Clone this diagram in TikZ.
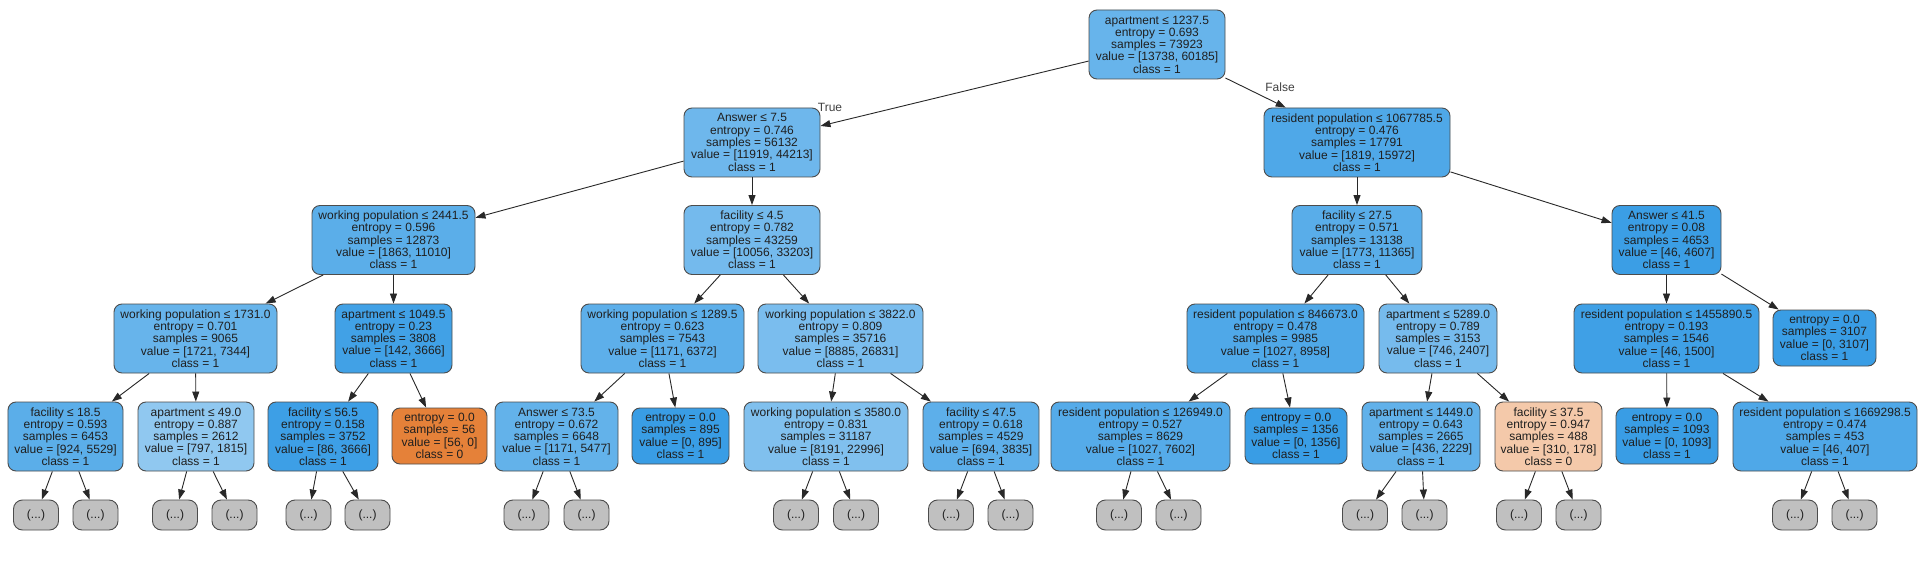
\documentclass[tikz,border=0pt]{standalone}
\usepackage{fontspec}
\setmainfont{Liberation Sans}
\usetikzlibrary{arrows.meta}
\definecolor{cb}{RGB}{57,157,229}
\definecolor{co}{RGB}{229,129,57}
\definecolor{cg}{RGB}{192,192,192}
\definecolor{edgec}{RGB}{40,40,40}
\tikzset{
  tn/.style={draw=black!70, line width=0.9bp, rounded corners=8bp, inner sep=0pt,
    align=center, text=black!88, font=\fontsize{12.05}{12.35}\selectfont},
  dec/.style={tn, minimum height=69bp},
  lf/.style={tn, minimum height=56bp},
  gl/.style={tn, fill=cg, minimum width=45bp, minimum height=30bp, rounded corners=9bp},
  ed/.style={draw=edgec, line width=0.9bp, -{Triangle[length=10bp,width=7bp]}},
  elab/.style={text=black!75, font=\fontsize{12.05}{12.35}\selectfont, inner sep=0pt}
}
\begin{document}
\begin{tikzpicture}[x=1bp,y=-1bp]
\fill[white] (0,0) rectangle (1920,572);
\useasboundingbox (0,0) rectangle (1920,572);
% level 0
\node[dec, fill=cb!77!white, minimum width=136bp] (n0) at (1157,44.5) {apartment ≤ 1237.5\\entropy = 0.693\\samples = 73923\\value = [13738, 60185]\\class = 1};
% level 1
\node[dec, fill=cb!73!white, minimum width=136bp] (n1) at (752,142.5) {Answer ≤ 7.5\\entropy = 0.746\\samples = 56132\\value = [11919, 44213]\\class = 1};
\node[dec, fill=cb!89!white, minimum width=186bp] (n2) at (1357,142.5) {resident population ≤ 1067785.5\\entropy = 0.476\\samples = 17791\\value = [1819, 15972]\\class = 1};
% level 2
\node[dec, fill=cb!83!white, minimum width=163bp] (n3) at (393.5,240) {working population ≤ 2441.5\\entropy = 0.596\\samples = 12873\\value = [1863, 11010]\\class = 1};
\node[dec, fill=cb!70!white, minimum width=136bp] (n4) at (752,240) {facility ≤ 4.5\\entropy = 0.782\\samples = 43259\\value = [10056, 33203]\\class = 1};
\node[dec, fill=cb!84!white, minimum width=130bp] (n5) at (1357,240) {facility ≤ 27.5\\entropy = 0.571\\samples = 13138\\value = [1773, 11365]\\class = 1};
\node[dec, fill=cb!99!white, minimum width=109bp] (n6) at (1666.5,240) {Answer ≤ 41.5\\entropy = 0.08\\samples = 4653\\value = [46, 4607]\\class = 1};
% level 3
\node[dec, fill=cb!77!white, minimum width=163bp] (n7) at (195.5,338.5) {working population ≤ 1731.0\\entropy = 0.701\\samples = 9065\\value = [1721, 7344]\\class = 1};
\node[dec, fill=cb!96!white, minimum width=117bp] (n8) at (393.5,338.5) {apartment ≤ 1049.5\\entropy = 0.23\\samples = 3808\\value = [142, 3666]\\class = 1};
\node[dec, fill=cb!82!white, minimum width=163bp] (n9) at (662.5,338.5) {working population ≤ 1289.5\\entropy = 0.623\\samples = 7543\\value = [1171, 6372]\\class = 1};
\node[dec, fill=cb!67!white, minimum width=165bp] (n10) at (840.5,338.5) {working population ≤ 3822.0\\entropy = 0.809\\samples = 35716\\value = [8885, 26831]\\class = 1};
\node[dec, fill=cb!89!white, minimum width=177bp] (n11) at (1275.5,338.5) {resident population ≤ 846673.0\\entropy = 0.478\\samples = 9985\\value = [1027, 8958]\\class = 1};
\node[dec, fill=cb!69!white, minimum width=118bp] (n12) at (1438,338.5) {apartment ≤ 5289.0\\entropy = 0.789\\samples = 3153\\value = [746, 2407]\\class = 1};
\node[dec, fill=cb!97!white, minimum width=185bp] (n13) at (1666.5,338.5) {resident population ≤ 1455890.5\\entropy = 0.193\\samples = 1546\\value = [46, 1500]\\class = 1};
\node[lf, fill=cb, minimum width=103bp] (n14) at (1824.5,338) {entropy = 0.0\\samples = 3107\\value = [0, 3107]\\class = 1};
% level 4
\node[dec, fill=cb!83!white, minimum width=115bp] (n15) at (65.5,436.5) {facility ≤ 18.5\\entropy = 0.593\\samples = 6453\\value = [924, 5529]\\class = 1};
\node[dec, fill=cb!56!white, minimum width=116bp] (n16) at (196,436.5) {apartment ≤ 49.0\\entropy = 0.887\\samples = 2612\\value = [797, 1815]\\class = 1};
\node[dec, fill=cb!98!white, minimum width=110bp] (n17) at (323,436.5) {facility ≤ 56.5\\entropy = 0.158\\samples = 3752\\value = [86, 3666]\\class = 1};
\node[lf, fill=co, minimum width=95bp] (n18) at (439.5,436) {entropy = 0.0\\samples = 56\\value = [56, 0]\\class = 0};
\node[dec, fill=cb!79!white, minimum width=123bp] (n19) at (556.5,436.5) {Answer ≤ 73.5\\entropy = 0.672\\samples = 6648\\value = [1171, 5477]\\class = 1};
\node[lf, fill=cb, minimum width=97bp] (n20) at (680.5,436) {entropy = 0.0\\samples = 895\\value = [0, 895]\\class = 1};
\node[dec, fill=cb!64!white, minimum width=164bp] (n21) at (826,436.5) {working population ≤ 3580.0\\entropy = 0.831\\samples = 31187\\value = [8191, 22996]\\class = 1};
\node[dec, fill=cb!82!white, minimum width=116bp] (n22) at (981,436.5) {facility ≤ 47.5\\entropy = 0.618\\samples = 4529\\value = [694, 3835]\\class = 1};
\node[dec, fill=cb!86!white, minimum width=179bp] (n23) at (1140.5,436.5) {resident population ≤ 126949.0\\entropy = 0.527\\samples = 8629\\value = [1027, 7602]\\class = 1};
\node[lf, fill=cb, minimum width=102bp] (n24) at (1296,436) {entropy = 0.0\\samples = 1356\\value = [0, 1356]\\class = 1};
\node[dec, fill=cb!80!white, minimum width=118bp] (n25) at (1421,436.5) {apartment ≤ 1449.0\\entropy = 0.643\\samples = 2665\\value = [436, 2229]\\class = 1};
\node[dec, fill=co!43!white, minimum width=107bp] (n26) at (1548.5,436.5) {facility ≤ 37.5\\entropy = 0.947\\samples = 488\\value = [310, 178]\\class = 0};
\node[lf, fill=cb, minimum width=102bp] (n27) at (1667,436) {entropy = 0.0\\samples = 1093\\value = [0, 1093]\\class = 1};
\node[dec, fill=cb!89!white, minimum width=184bp] (n28) at (1825,436.5) {resident population ≤ 1669298.5\\entropy = 0.474\\samples = 453\\value = [46, 407]\\class = 1};
% level 5 (truncated)
\node[gl] (g1) at (36,515) {(...)};
\node[gl] (g2) at (95.5,515) {(...)};
\node[gl] (g3) at (175,515) {(...)};
\node[gl] (g4) at (234.5,515) {(...)};
\node[gl] (g5) at (308.5,515) {(...)};
\node[gl] (g6) at (367.5,515) {(...)};
\node[gl] (g7) at (526.5,515) {(...)};
\node[gl] (g8) at (586.5,515) {(...)};
\node[gl] (g9) at (796,515) {(...)};
\node[gl] (g10) at (856,515) {(...)};
\node[gl] (g11) at (951,515) {(...)};
\node[gl] (g12) at (1010.5,515) {(...)};
\node[gl] (g13) at (1119,515) {(...)};
\node[gl] (g14) at (1178.5,515) {(...)};
\node[gl] (g15) at (1365,515) {(...)};
\node[gl] (g16) at (1424.5,515) {(...)};
\node[gl] (g17) at (1519,515) {(...)};
\node[gl] (g18) at (1578.5,515) {(...)};
\node[gl] (g19) at (1795,515) {(...)};
\node[gl] (g20) at (1854.5,515) {(...)};
% edge labels
\node[elab] (tl) at (830,107) {True};
\node[elab] (fl) at (1280,87) {False};
% edges
\draw[ed] (n0) -- (n1);
\draw[ed] (n0) -- (n2);
\draw[ed] (n1) -- (n3);
\draw[ed] (n1) -- (n4);
\draw[ed] (n2) -- (n5);
\draw[ed] (n2) -- (n6);
\draw[ed] (n3) -- (n7);
\draw[ed] (n3) -- (n8);
\draw[ed] (n4) -- (n9);
\draw[ed] (n4) -- (n10);
\draw[ed] (n5) -- (n11);
\draw[ed] (n5) -- (n12);
\draw[ed] (n6) -- (n13);
\draw[ed] (n6) -- (n14);
\draw[ed] (n7) -- (n15);
\draw[ed] (n7) -- (n16);
\draw[ed] (n8) -- (n17);
\draw[ed] (n8) -- (n18);
\draw[ed] (n9) -- (n19);
\draw[ed] (n9) -- (n20);
\draw[ed] (n10) -- (n21);
\draw[ed] (n10) -- (n22);
\draw[ed] (n11) -- (n23);
\draw[ed] (n11) -- (n24);
\draw[ed] (n12) -- (n25);
\draw[ed] (n12) -- (n26);
\draw[ed] (n13) -- (n27);
\draw[ed] (n13) -- (n28);
\draw[ed] (n15) -- (g1);
\draw[ed] (n15) -- (g2);
\draw[ed] (n16) -- (g3);
\draw[ed] (n16) -- (g4);
\draw[ed] (n17) -- (g5);
\draw[ed] (n17) -- (g6);
\draw[ed] (n19) -- (g7);
\draw[ed] (n19) -- (g8);
\draw[ed] (n21) -- (g9);
\draw[ed] (n21) -- (g10);
\draw[ed] (n22) -- (g11);
\draw[ed] (n22) -- (g12);
\draw[ed] (n23) -- (g13);
\draw[ed] (n23) -- (g14);
\draw[ed] (n25) -- (g15);
\draw[ed] (n25) -- (g16);
\draw[ed] (n26) -- (g17);
\draw[ed] (n26) -- (g18);
\draw[ed] (n28) -- (g19);
\draw[ed] (n28) -- (g20);
\end{tikzpicture}
\end{document}
